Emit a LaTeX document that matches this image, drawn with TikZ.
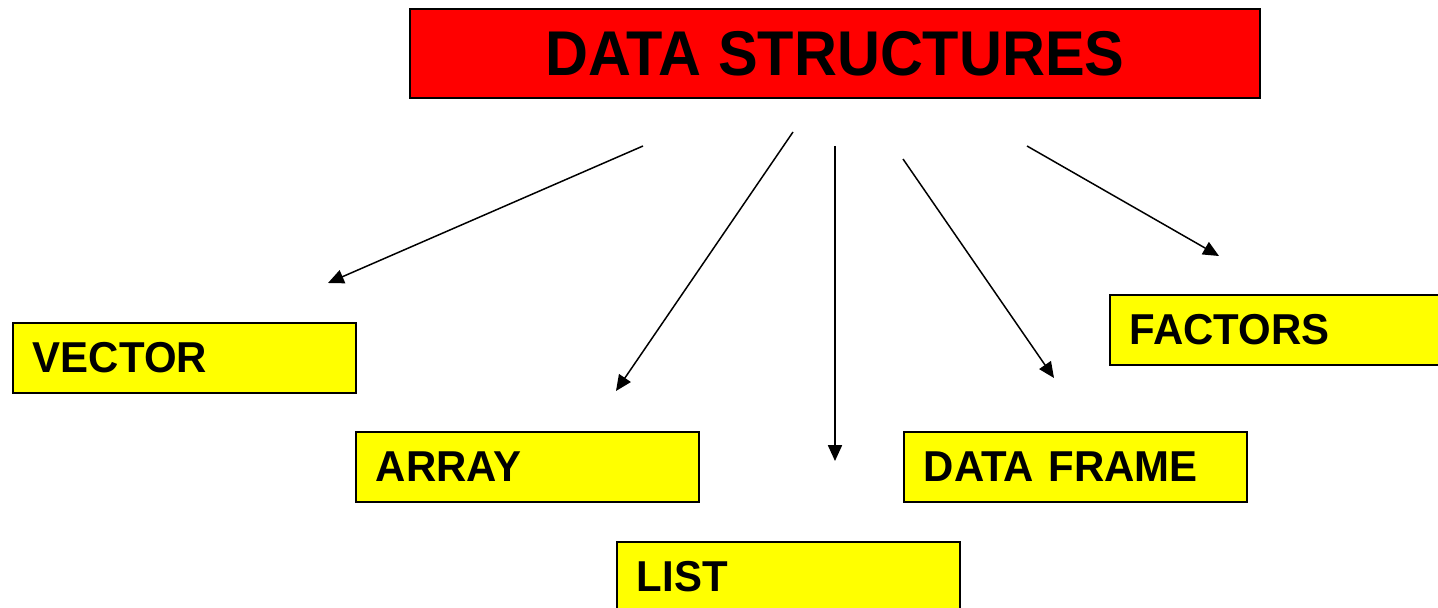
\documentclass[tikz,border=0pt]{standalone}
\usepackage{fontspec}
\setmainfont{Liberation Sans}
\newfontfamily\headfont[FakeStretch=0.94]{Liberation Sans}
\newfontfamily\itemfont[FakeStretch=0.97]{Liberation Sans}
\usetikzlibrary{arrows.meta}

\definecolor{headred}{RGB}{255,0,0}
\definecolor{itemyellow}{RGB}{255,255,0}

\tikzset{
	headbox/.style={draw=black, line width=1.1pt, fill=headred, minimum width=17cm,
		minimum height=1.78cm, font=\headfont\bfseries\fontsize{36}{36}\selectfont},
	itembox/.style={draw=black, line width=1.1pt, fill=itemyellow, anchor=north west,
		minimum height=1.4cm, inner xsep=0.4cm, text width=6.06cm, align=left,
		font=\itemfont\bfseries\fontsize{24.6}{24.6}\selectfont},
	link/.style={line width=0.85pt, -{Triangle[length=9pt,width=8pt]}}
}

\begin{document}
\begin{tikzpicture}[x=0.02cm,y=-0.02cm]
		\clip(0,0) rectangle (1438,608);
		\fill[white](0,0) rectangle (1438,608);
		\node[headbox] (ds) at (835,53.5) {DATA STRUCTURES};
		\node[itembox] (vector) at (12,322) {VECTOR};
		\node[itembox] (array) at (355,431) {ARRAY};
		\node[itembox] (list) at (616,541) {LIST};
		\node[itembox] (frame) at (903,431) {DATA FRAME};
		\node[itembox] (factors) at (1109,294) {FACTORS};
		% arrow ends
		\coordinate (v0) at (643,146);
		\coordinate (v1) at (328,283);
		\coordinate (a0) at (793,132);
		\coordinate (a1) at (616,391);
		\coordinate (l0) at (835,146);
		\coordinate (l1) at (835,461);
		\coordinate (d0) at (903,159);
		\coordinate (d1) at (1054,378);
		\coordinate (f0) at (1027,146);
		\coordinate (f1) at (1219,256);
		\draw[link](v0) -- (v1);
		\draw[link](a0) -- (a1);
		\draw[link](l0) -- (l1);
		\draw[link](d0) -- (d1);
		\draw[link](f0) -- (f1);
	\end{tikzpicture}
\end{document}
